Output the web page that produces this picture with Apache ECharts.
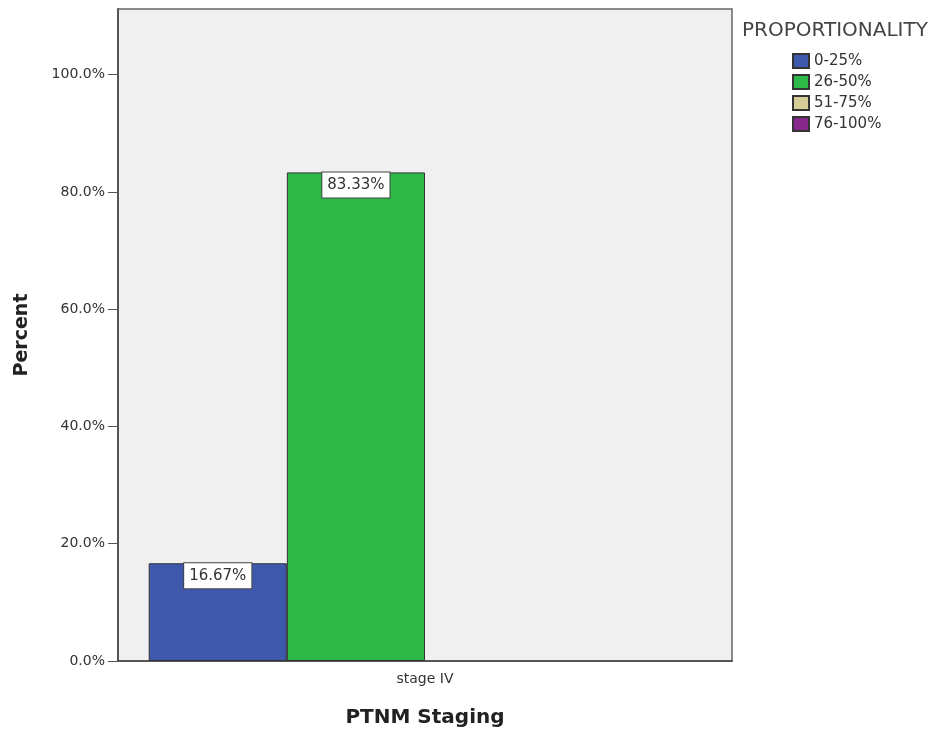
<!DOCTYPE html>
<html>
<head>
<meta charset="utf-8">
<script src="https://cdn.jsdelivr.net/npm/echarts@6/dist/echarts.min.js"></script>
<style>
html,body{margin:0;padding:0;background:#fff;}
#chart{width:935px;height:733px;}
</style>
</head>
<body>
<div id="chart"></div>
<script>
const categories = ['stage IV'];
const seriesNames = ['0-25%', '26-50%', '51-75%', '76-100%'];
const seriesValues = [[16.67], [83.33], [0], [0]];
const seriesColors = ['#3E58AC', '#2EB848', '#D4CD98', '#86288C'];
const yTicks = [0, 20, 40, 60, 80, 100];

const FONT = '"DejaVu Sans", "Liberation Sans", Arial, sans-serif';
const chart = echarts.init(document.getElementById('chart'));

const series = seriesNames.map((name, i) => ({
  name: name,
  type: 'bar',
  barGap: '0%',
  barCategoryGap: '10%',
  data: seriesValues[i].map(v => ({
    value: v,
    itemStyle: { borderWidth: v > 0 ? 1 : 0 },
    label: { show: v > 0 }
  })),
  itemStyle: { color: seriesColors[i], borderColor: '#333', borderWidth: 1 },
  label: {
    position: 'insideTop',
    distance: 0,
    formatter: p => p.value.toFixed(2) + '%',
    backgroundColor: '#fff',
    borderColor: '#444',
    borderWidth: 1,
    padding: [5, 5, 5, 5],
    color: '#333',
    fontSize: 15,
    fontFamily: FONT
  }
}));

chart.setOption({
  animation: false,
  title: {
    text: 'PROPORTIONALITY',
    left: 742,
    top: 21,
    padding: 0,
    textStyle: { fontSize: 20, fontWeight: 'normal', color: '#444', fontFamily: FONT }
  },
  legend: {
    orient: 'vertical',
    left: 792,
    top: 53,
    padding: 0,
    icon: 'rect',
    itemWidth: 16,
    itemHeight: 14,
    itemGap: 5,
    data: seriesNames,
    textStyle: { fontSize: 15, lineHeight: 14, color: '#333', fontFamily: FONT }
  },
  grid: {
    left: 118, right: 203, top: 9, bottom: 70,
    show: true,
    backgroundColor: '#F0F0F0',
    borderColor: '#666',
    borderWidth: 1.5
  },
  xAxis: {
    type: 'category',
    data: categories,
    name: 'PTNM Staging',
    nameLocation: 'middle',
    nameGap: 47,
    nameTextStyle: { fontSize: 20, fontWeight: 'bold', color: '#222', fontFamily: FONT },
    axisLine: { lineStyle: { color: '#555', width: 2 } },
    axisTick: { alignWithLabel: true, length: 10, lineStyle: { color: '#555' } },
    axisLabel: { fontSize: 14, color: '#333', margin: 11, fontFamily: FONT }
  },
  yAxis: {
    type: 'value',
    min: 0,
    max: 111.2,
    interval: 20,
    name: 'Percent',
    nameLocation: 'middle',
    nameGap: 86,
    nameTextStyle: { fontSize: 19, fontWeight: 'bold', color: '#222', fontFamily: FONT },
    axisLine: { show: true, lineStyle: { color: '#555', width: 2 } },
    axisTick: { show: true, length: 10, lineStyle: { color: '#555' } },
    splitLine: { show: false },
    axisLabel: {
      showMaxLabel: false,
      fontSize: 14,
      color: '#333',
      margin: 13,
      fontFamily: FONT,
      formatter: v => yTicks.indexOf(v) >= 0 ? v.toFixed(1) + '%' : ''
    }
  },
  series: series
});
</script>
</body>
</html>
